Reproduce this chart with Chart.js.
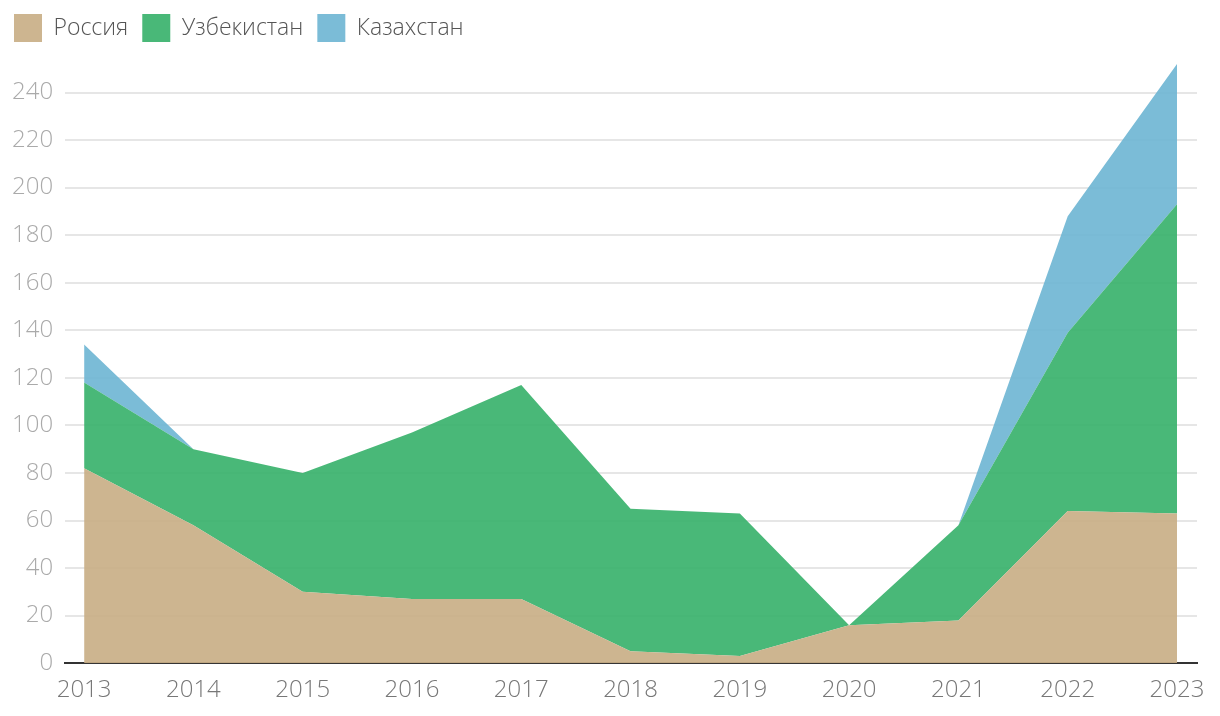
<!DOCTYPE html>
<html>
<head>
<meta charset="utf-8">
<script src="https://cdn.jsdelivr.net/npm/chart.js@4/dist/chart.umd.min.js"></script>
<style>
  html, body { margin: 0; padding: 0; background: #fff; }
  #wrap { width: 1220px; height: 716px; }
</style>
</head>
<body>
<div id="wrap"><canvas id="myChart"></canvas></div>
<script>
const years = [2013, 2014, 2015, 2016, 2017, 2018, 2019, 2020, 2021, 2022, 2023];
const russia = [82, 58, 30, 27, 27, 5, 3, 16, 18, 64, 63];
const uzbekistan = [36, 32, 50, 70, 90, 60, 60, 0, 40, 75, 130];
const kazakhstan = [16, 0, 0, 0, 0, 0, 0, 0, 0, 49, 59];
const seriesNames = ['Россия', 'Узбекистан', 'Казахстан'];
const yTicks = [0, 20, 40, 60, 80, 100, 120, 140, 160, 180, 200, 220, 240];

const colors = ['rgba(201,175,135,0.92)', 'rgba(58,178,108,0.92)', 'rgba(112,182,212,0.92)'];
const toPoints = (vals) => vals.map((v, i) => ({ x: years[i], y: v }));
const topValue = Math.max(...years.map((y, i) => russia[i] + uzbekistan[i] + kazakhstan[i]));

// extra room under the legend
const legendMargin = {
  id: 'legendMargin',
  beforeInit(chart) {
    const fit = chart.legend.fit;
    chart.legend.fit = function () {
      fit.bind(chart.legend)();
      this.height += 12;
    };
  },
};

const chart = new Chart(document.getElementById('myChart'), {
  type: 'line',
  data: {
    datasets: [russia, uzbekistan, kazakhstan].map((vals, i) => ({
      label: seriesNames[i],
      data: toPoints(vals),
      backgroundColor: colors[i],
      borderColor: colors[i],
      borderWidth: 0,
      pointRadius: 0,
      tension: 0,
      fill: i === 0 ? 'origin' : '-1',
    })),
  },
  plugins: [legendMargin],
  options: {
    responsive: true,
    maintainAspectRatio: false,
    animation: false,
    layout: { padding: { left: 0, right: 23, top: 0, bottom: -2 } },
    plugins: {
      tooltip: { enabled: false },
      legend: {
        position: 'top',
        align: 'start',
        labels: {
          boxWidth: 28,
          boxHeight: 28,
          padding: 14,
          color: '#555',
          font: { family: 'Open Sans', size: 23, weight: 300 },
        },
      },
    },
    scales: {
      x: {
        type: 'linear',
        min: years[0] - 0.174,
        max: years[years.length - 1] + 0.183,
        afterBuildTicks: (axis) => { axis.ticks = years.map((v) => ({ value: v })); },
        grid: { display: false, drawTicks: false },
        border: { color: '#333', width: 2 },
        ticks: {
          color: '#777',
          padding: 13,
          maxRotation: 0,
          font: { family: 'Open Sans', size: 24, weight: 300 },
          callback: (v) => String(v),
        },
      },
      y: {
        stacked: true,
        min: 0,
        max: topValue,
        afterBuildTicks: (axis) => { axis.ticks = yTicks.map((v) => ({ value: v })); },
        grid: { color: '#e6e6e6', lineWidth: 2, drawTicks: false },
        border: { display: false },
        ticks: {
          color: '#aaa',
          padding: 12,
          font: { family: 'Open Sans', size: 24, weight: 300 },
          callback: (v) => String(v),
        },
      },
    },
  },
});
</script>
</body>
</html>
